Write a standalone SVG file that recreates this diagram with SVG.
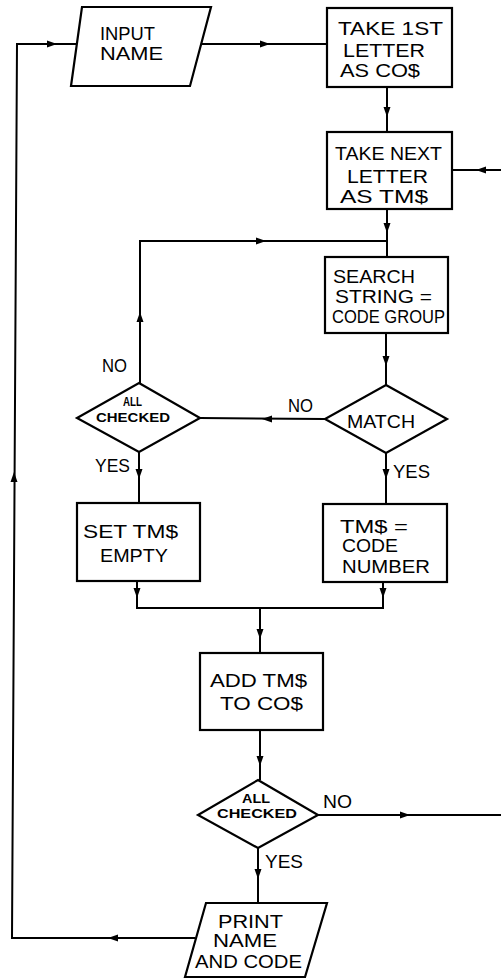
<svg xmlns="http://www.w3.org/2000/svg" xmlns:xlink="http://www.w3.org/1999/xlink" width="501" height="978" viewBox="0 0 501 978">
<style>
.shape{fill:#fff;stroke:#000;stroke-width:2.2;stroke-linejoin:miter}
.line{fill:none;stroke:#000;stroke-width:2}
.t{font-family:"Liberation Sans",Arial,sans-serif;font-size:19px;fill:#000}
.s{font-family:"Liberation Sans",Arial,sans-serif;font-size:12px;fill:#000;font-weight:bold}
</style>
<defs>
<path id="ah" d="M0,0 L-10,-3.5 L-10,3.5 Z" fill="#000"/>
</defs>
<rect width="501" height="978" fill="#fff"/>
<g id="connectors">
<polyline class="line" points="195,938 12,938 17,44 77,44"/>
<line class="line" x1="201" y1="44" x2="327" y2="44"/>
<line class="line" x1="387" y1="87" x2="387" y2="132"/>
<line class="line" x1="501" y1="170" x2="452" y2="170"/>
<line class="line" x1="387" y1="209" x2="387" y2="257"/>
<polyline class="line" points="140,383 140,241 387,241"/>
<line class="line" x1="386" y1="333" x2="386" y2="385"/>
<line class="line" x1="325" y1="419" x2="200" y2="418"/>
<line class="line" x1="139" y1="452" x2="139" y2="503"/>
<line class="line" x1="386" y1="453" x2="386" y2="504"/>
<polyline class="line" points="137,581 137,608 383,608 383,582"/>
<line class="line" x1="260" y1="608" x2="260" y2="653"/>
<line class="line" x1="260" y1="730" x2="260" y2="780"/>
<line class="line" x1="318" y1="815" x2="501" y2="815"/>
<line class="line" x1="258" y1="848" x2="258" y2="903"/>
<use xlink:href="#ah" transform="translate(108,938) rotate(180)"/>
<use xlink:href="#ah" transform="translate(14,472) rotate(-90)"/>
<use xlink:href="#ah" transform="translate(57,44)"/>
<use xlink:href="#ah" transform="translate(270,44)"/>
<use xlink:href="#ah" transform="translate(387,117) rotate(90)"/>
<use xlink:href="#ah" transform="translate(476,170) rotate(180)"/>
<use xlink:href="#ah" transform="translate(387,233) rotate(90)"/>
<use xlink:href="#ah" transform="translate(140,312) rotate(-90)"/>
<use xlink:href="#ah" transform="translate(266,241)"/>
<use xlink:href="#ah" transform="translate(386,366) rotate(90)"/>
<use xlink:href="#ah" transform="translate(262,419) rotate(180)"/>
<use xlink:href="#ah" transform="translate(139,479) rotate(90)"/>
<use xlink:href="#ah" transform="translate(386,479) rotate(90)"/>
<use xlink:href="#ah" transform="translate(137,598) rotate(90)"/>
<use xlink:href="#ah" transform="translate(383,598) rotate(90)"/>
<use xlink:href="#ah" transform="translate(260,639) rotate(90)"/>
<use xlink:href="#ah" transform="translate(260,766) rotate(90)"/>
<use xlink:href="#ah" transform="translate(410,815)"/>
<use xlink:href="#ah" transform="translate(258,879) rotate(90)"/>
</g>
<g id="input-name">
<polygon class="shape" points="82,7 211,7 190,86 71,86"/>
<text class="t" x="100" y="40" textLength="55" lengthAdjust="spacingAndGlyphs">INPUT</text>
<text class="t" x="100" y="60" textLength="63" lengthAdjust="spacingAndGlyphs">NAME</text>
</g>
<g id="take-first">
<rect class="shape" x="327" y="8" width="125" height="79"/>
<text class="t" x="338" y="35" textLength="105" lengthAdjust="spacingAndGlyphs">TAKE 1ST</text>
<text class="t" x="343" y="57" textLength="82" lengthAdjust="spacingAndGlyphs">LETTER</text>
<text class="t" x="340" y="77" textLength="80" lengthAdjust="spacingAndGlyphs">AS CO$</text>
</g>
<g id="take-next">
<rect class="shape" x="327" y="132" width="125" height="77"/>
<text class="t" x="335" y="160" textLength="107" lengthAdjust="spacingAndGlyphs">TAKE NEXT</text>
<text class="t" x="347" y="183" textLength="81" lengthAdjust="spacingAndGlyphs">LETTER</text>
<text class="t" x="340" y="203" textLength="88" lengthAdjust="spacingAndGlyphs">AS TM$</text>
</g>
<g id="search">
<rect class="shape" x="325" y="257" width="123" height="76"/>
<text class="t" x="333" y="283" textLength="82" lengthAdjust="spacingAndGlyphs">SEARCH</text>
<text class="t" x="335" y="303" textLength="97" lengthAdjust="spacingAndGlyphs">STRING =</text>
<text class="t" x="332" y="323" textLength="113" lengthAdjust="spacingAndGlyphs">CODE GROUP</text>
</g>
<g id="match">
<polygon class="shape" points="386,385 447,419 386,453 325,419"/>
<text class="t" x="347" y="428" textLength="68" lengthAdjust="spacingAndGlyphs">MATCH</text>
</g>
<g id="all-checked-1">
<polygon class="shape" points="139,383 200,418 139,452 77,418"/>
<text class="s" x="123" y="406" textLength="19" lengthAdjust="spacingAndGlyphs">ALL</text>
<text class="s" x="96" y="422" textLength="74" lengthAdjust="spacingAndGlyphs">CHECKED</text>
</g>
<g id="set-empty">
<rect class="shape" x="77" y="503" width="123" height="78"/>
<text class="t" x="83" y="538" textLength="95" lengthAdjust="spacingAndGlyphs">SET TM$</text>
<text class="t" x="100" y="562" textLength="68" lengthAdjust="spacingAndGlyphs">EMPTY</text>
</g>
<g id="code-number">
<rect class="shape" x="323" y="504" width="124" height="78"/>
<text class="t" x="340" y="533" textLength="68" lengthAdjust="spacingAndGlyphs">TM$ =</text>
<text class="t" x="342" y="552" textLength="56" lengthAdjust="spacingAndGlyphs">CODE</text>
<text class="t" x="342" y="573" textLength="88" lengthAdjust="spacingAndGlyphs">NUMBER</text>
</g>
<g id="add">
<rect class="shape" x="200" y="653" width="123" height="77"/>
<text class="t" x="210" y="687" textLength="97" lengthAdjust="spacingAndGlyphs">ADD TM$</text>
<text class="t" x="220" y="710" textLength="83" lengthAdjust="spacingAndGlyphs">TO CO$</text>
</g>
<g id="all-checked-2">
<polygon class="shape" points="258,780 318,815 258,848 198,815"/>
<text class="s" x="242" y="803" textLength="28" lengthAdjust="spacingAndGlyphs">ALL</text>
<text class="s" x="217" y="818" textLength="80" lengthAdjust="spacingAndGlyphs">CHECKED</text>
</g>
<g id="print">
<polygon class="shape" points="206,903 327,903 305,977 185,977"/>
<text class="t" x="218" y="928" textLength="65" lengthAdjust="spacingAndGlyphs">PRINT</text>
<text class="t" x="213" y="947" textLength="64" lengthAdjust="spacingAndGlyphs">NAME</text>
<text class="t" x="195" y="968" textLength="107" lengthAdjust="spacingAndGlyphs">AND CODE</text>
</g>
<g id="labels">
<text class="t" x="288" y="412" textLength="25" lengthAdjust="spacingAndGlyphs">NO</text>
<text class="t" x="102" y="372" textLength="25" lengthAdjust="spacingAndGlyphs">NO</text>
<text class="t" x="95" y="472" textLength="35" lengthAdjust="spacingAndGlyphs">YES</text>
<text class="t" x="393" y="478" textLength="37" lengthAdjust="spacingAndGlyphs">YES</text>
<text class="t" x="323" y="808" textLength="29" lengthAdjust="spacingAndGlyphs">NO</text>
<text class="t" x="265" y="868" textLength="38" lengthAdjust="spacingAndGlyphs">YES</text>
</g>
</svg>
